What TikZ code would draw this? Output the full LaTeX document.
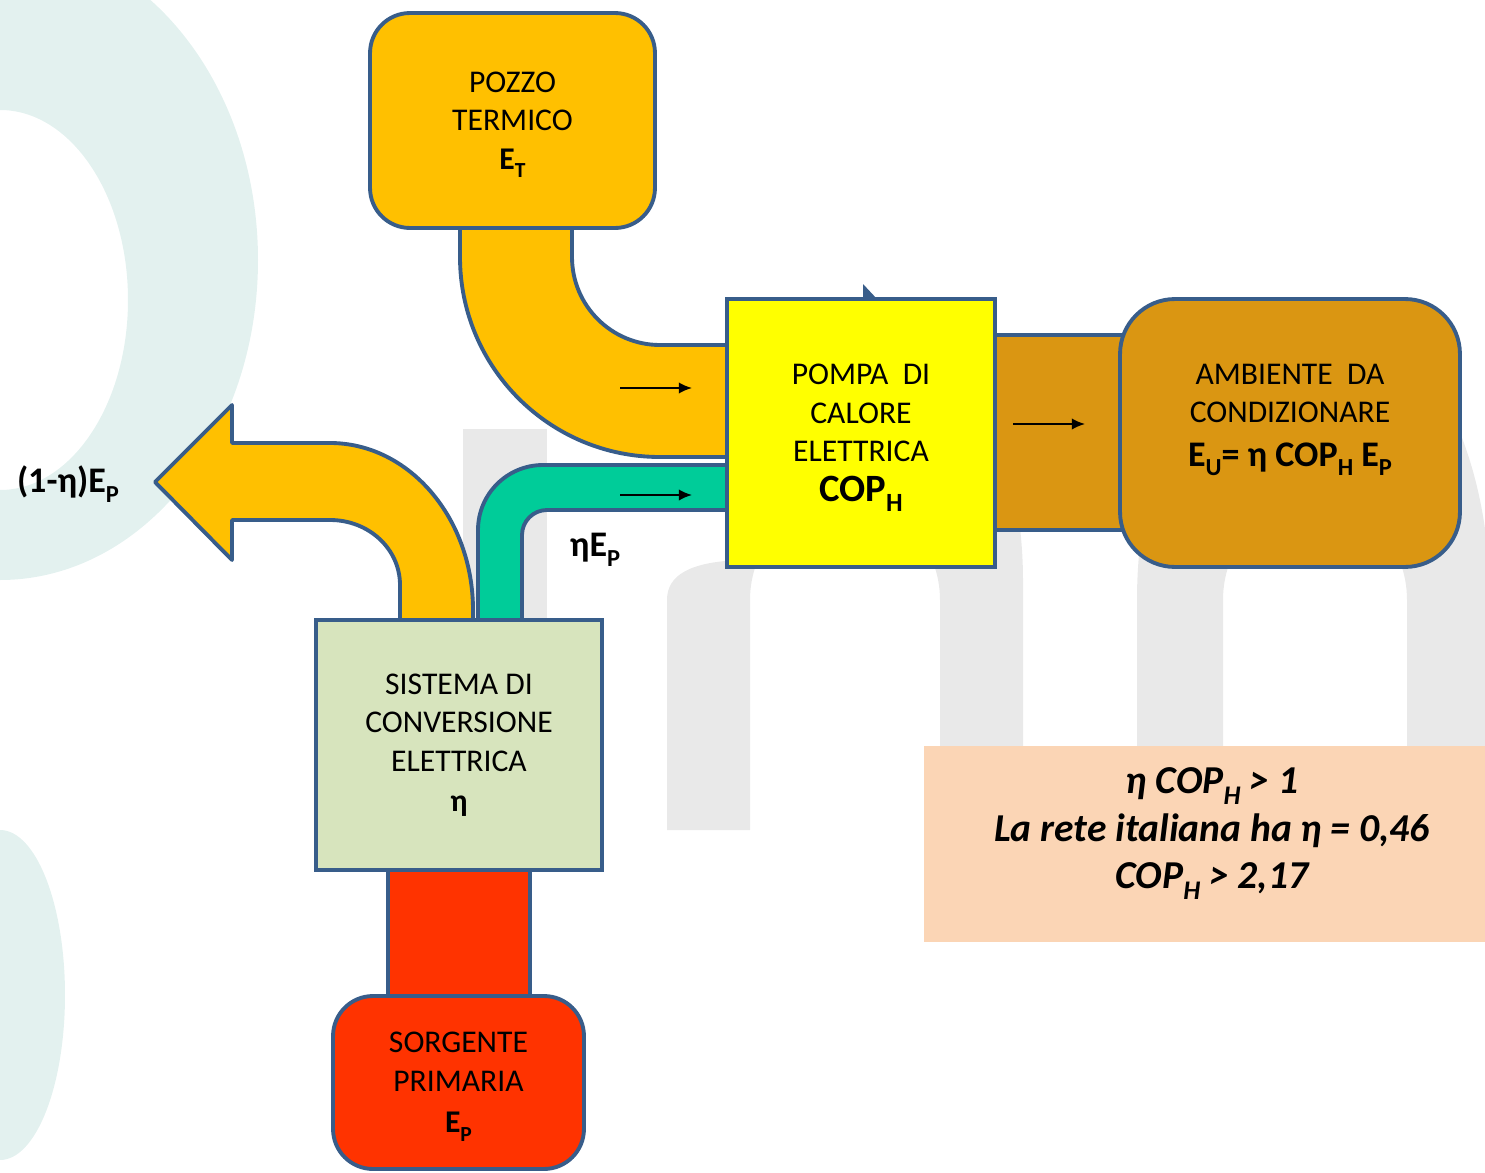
\documentclass[tikz,border=0pt]{standalone}
\usepackage{fontspec}
\setmainfont{Carlito}
\usetikzlibrary{positioning,arrows.meta}
\definecolor{bordo}{HTML}{385D8A}
\definecolor{giallo}{HTML}{FFC000}
\definecolor{limone}{HTML}{FFFF00}
\definecolor{ocra}{HTML}{DA9612}
\definecolor{verde}{HTML}{00CC99}
\definecolor{salvia}{HTML}{D7E4BD}
\definecolor{rosso}{HTML}{FF3300}
\definecolor{pesca}{HTML}{FBD5B5}
\definecolor{acqua}{HTML}{E3F1EF}
\definecolor{grigio}{HTML}{E9E9E9}
\newcommand{\pedice}[1]{\smash{\raisebox{-0.27em}{\scalebox{0.68}{#1}}}}

\begin{document}
\begin{tikzpicture}[x=0.02cm, y=-0.02cm,
	box/.style={draw=bordo, line width=2.2pt, align=center, inner sep=0pt, font=\fontsize{18}{21.8}\selectfont},
	pipe/.style={draw=bordo, line width=2.2pt, line join=round},
	flow/.style={-{Latex[length=7.5pt,width=6.5pt]}, line width=1.1pt},
	lbl/.style={font=\fontsize{20.5}{23}\selectfont\bfseries}]
	
	\useasboundingbox (0,0) rectangle (1485,1173);
	\clip (0,0) rectangle (1485,1173);
	
	% sfondo
	\fill[acqua, even odd rule] (0,260) ellipse [x radius=258, y radius=320] (0,300) ellipse [x radius=128, y radius=190];
	\fill[acqua] (0,995) ellipse [x radius=65, y radius=165];
	\fill[grigio] (463,429) rectangle (547,830);
	\fill[grigio] (667,830) -- (667,600) .. controls (667,575) and (690,562) .. (740,560) -- (740,380) -- (960,380) .. controls (1000,400) and (1023,500) .. (1023,580) -- (1023,830) -- (940,830) -- (940,600) arc[start angle=0, end angle=-180, x radius=95, y radius=100] -- (750,830) -- cycle;
	\fill[grigio] (1137,830) -- (1137,600) arc[start angle=180, end angle=360, x radius=176.5, y radius=300] -- (1490,830) -- (1407,830) -- (1407,600) arc[start angle=0, end angle=-180, x radius=92, y radius=100] -- (1223,830) -- cycle;
	
	% flussi
	\filldraw[pipe, fill=giallo] (460,200) -- (460,257) arc[start angle=180, end angle=90, radius=200] -- (745,457) -- (745,345) -- (660,345) arc[start angle=90, end angle=180, radius=88] -- (572,200) -- cycle;
	\filldraw[pipe, fill=ocra] (980,335) rectangle (1140,530);
	\filldraw[pipe, fill=giallo] (473,640) -- (473,610) .. controls (473,518) and (409,443) .. (330,443) -- (232,443) -- (232,405) -- (155,482) -- (232,560) -- (232,520) -- (330,520) .. controls (369,520) and (400,549) .. (400,585) -- (400,640) -- cycle;
	\filldraw[pipe, fill=verde] (478,640) -- (478,530) arc[start angle=180, end angle=270, radius=65] -- (745,465) -- (745,510) -- (547,510) arc[start angle=270, end angle=180, radius=25] -- (522,640) -- cycle;
	\filldraw[pipe, fill=rosso] (388,850) rectangle (530,1010);
	
	% blocchi
	\node[box, fill=giallo, rounded corners=0.8cm, minimum width=5.7cm, minimum height=4.3cm] (pozzo) at (512.5,120.5) {POZZO\\TERMICO\\\textbf{E\pedice{T}}};
	\fill[bordo] (863,284) -- (877,299) -- (863,299) -- cycle;
	\node[box, fill=limone, minimum width=5.36cm, minimum height=5.36cm] (pompa) at (861,433) {POMPA\ \ DI\\CALORE\\ELETTRICA\\[1pt]{\fontsize{22}{26}\selectfont\textbf{COP\pedice{H}}}};
	\node[box, fill=ocra, rounded corners=1.1cm, minimum width=6.8cm, minimum height=5.36cm] (ambiente) at (1290,433) {};
	\node[align=center, font=\fontsize{18}{21.8}\selectfont] (ambtxt) at (1290,418) {AMBIENTE\ \ DA\\CONDIZIONARE\\[3pt]{\fontsize{20.5}{25}\selectfont\textbf{E\pedice{U}= η COP\pedice{H} E\pedice{P}}}};
	\node[box, fill=salvia, minimum width=5.72cm, minimum height=5cm] (conv) at (459,745) {SISTEMA DI\\CONVERSIONE\\ELETTRICA\\[1pt]\textbf{η}};
	\node[box, fill=rosso, rounded corners=0.8cm, minimum width=5.02cm, minimum height=3.46cm] (sorgente) at (458.5,1082.5) {SORGENTE\\PRIMARIA\\[2pt]\textbf{E\pedice{P}}};
	\node[fill=pesca, minimum width=11.22cm, minimum height=3.92cm, inner sep=0pt] (info) at (1204.5,844) {};
	\node[align=center, font=\fontsize{22.5}{27}\selectfont\bfseries\itshape] (infotxt) at (1212,831) {η COP\pedice{H} > 1\\La rete italiana ha η = 0,46\\COP\pedice{H} > 2,17};
	
	% frecce
	\coordinate (f1a) at (620,388);
	\coordinate (f1b) at (692,388);
	\coordinate (f2a) at (620,495);
	\coordinate (f2b) at (692,495);
	\coordinate (f3a) at (1013,424);
	\coordinate (f3b) at (1085,424);
	\draw[flow] (f1a) -- (f1b);
	\draw[flow] (f2a) -- (f2b);
	\draw[flow] (f3a) -- (f3b);
	
	% etichette
	\coordinate (punta) at (155,482);
	\node[lbl, left=17pt of punta] (perdite) {(1-η)E\pedice{P}};
	\node[lbl] (utile) at (595,548) {ηE\pedice{P}};
\end{tikzpicture}
\end{document}
